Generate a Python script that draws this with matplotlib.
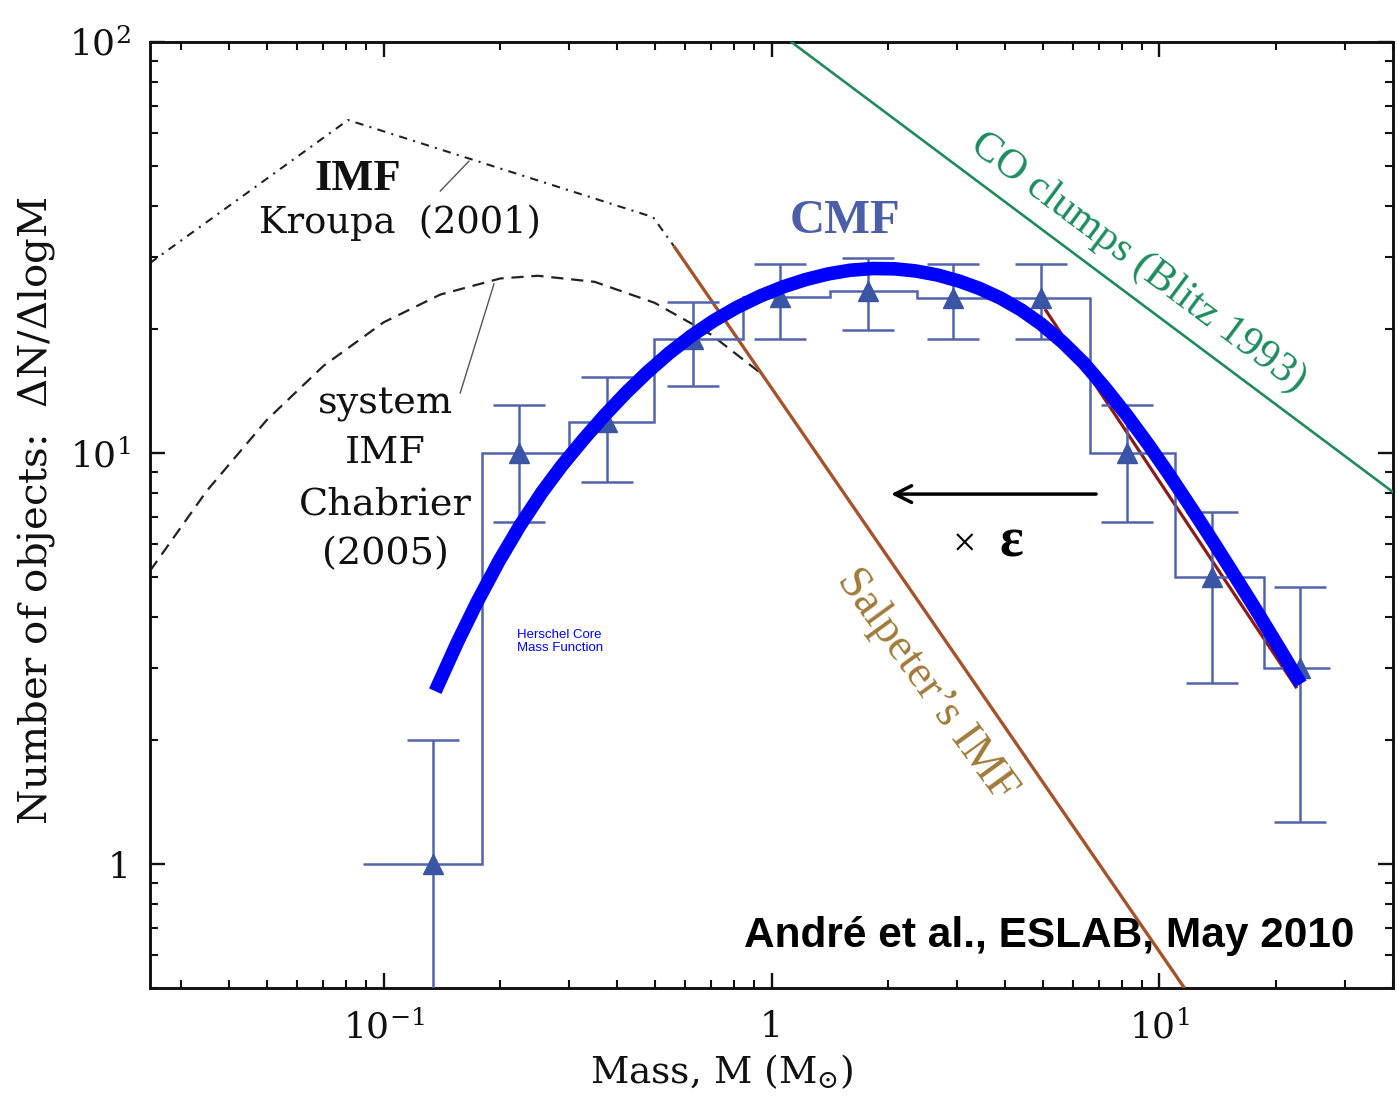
import numpy as np
import matplotlib
matplotlib.use("Agg")
import matplotlib.pyplot as plt
from matplotlib.ticker import FixedLocator, LogLocator, NullFormatter

plt.rcParams['mathtext.fontset'] = 'dejavuserif'

# ---------------- data ----------------
# CMF histogram (step) : bin edges and values
cmf_edges = [0.0883, 0.1795, 0.300, 0.498, 0.843, 1.416, 2.37, 3.96, 6.62, 11.0, 18.6, 27.6]
cmf_values = [1.0, 10.0, 11.9, 19.0, 24.0, 24.8, 23.8, 23.8, 10.0, 5.0, 3.0]
# data points with error bars
pt_mass = [0.134, 0.224, 0.377, 0.627, 1.05, 1.77, 2.93, 4.95, 8.23, 13.7, 23.1]
pt_value = [1.0, 10.0, 11.9, 19.0, 24.0, 24.8, 23.8, 23.8, 10.0, 5.0, 3.0]
pt_high = [2.0, 13.1, 15.3, 23.3, 28.8, 29.8, 28.8, 28.8, 13.1, 7.2, 4.72]
pt_low = [0.01, 6.8, 8.5, 14.6, 19.0, 19.9, 19.0, 19.0, 6.8, 2.76, 1.27]

# Kroupa (2001) IMF (broken power law vertices)
kroupa_m = [0.025, 0.081, 0.495, 0.56]
kroupa_n = [29.0, 64.6, 37.5, 31.9]

# Chabrier (2005) system IMF
chab_m = [0.025, 0.035, 0.05, 0.07, 0.1, 0.14, 0.2, 0.25, 0.35, 0.5, 0.7, 0.95]
chab_n = [5.17, 8.09, 12.04, 16.3, 20.8, 24.3, 26.6, 27.0, 26.1, 23.2, 19.4, 15.5]

# Salpeter IMF
salp_m = [0.56, 11.6]
salp_n = [31.9, 0.5]

# Salpeter shifted (x epsilon)
salp2_m = [5.07, 22.6]
salp2_n = [22.4, 2.68]

# CO clumps (Blitz 1993)
co_m = [1.125, 40.0]
co_n = [100.0, 8.04]

# Herschel core mass function (thick blue curve)
hcmf_m = [0.1359, 0.1548, 0.1742, 0.1983, 0.2245, 0.2557, 0.2877, 0.3276, 0.3708,
          0.4222, 0.4781, 0.5444, 0.6199, 0.7101, 0.8134, 0.9371, 1.0733, 1.2222,
          1.4003, 1.5946, 1.8260, 2.0792, 2.3535, 2.6810, 3.0525, 3.4357, 3.8892,
          4.4014, 4.9545, 5.6404, 6.3855, 7.2696, 8.2302, 9.3713, 10.607, 12.08,
          13.75, 15.66, 17.84, 20.31, 23.13]
hcmf_n = [2.636, 3.457, 4.341, 5.458, 6.655, 8.015, 9.309, 10.80, 12.34,
          14.04, 15.72, 17.50, 19.25, 21.00, 22.61, 24.12, 25.39, 26.42,
          27.28, 27.85, 28.12, 28.07, 27.74, 27.11, 26.19, 25.15, 23.84,
          22.30, 20.61, 18.58, 16.56, 14.35, 12.38, 10.48, 8.851, 7.356,
          6.091, 5.017, 4.120, 3.370, 2.744]

x_ticks = [0.1, 1, 10]
x_ticklabels = [r'$10^{-1}$', '1', r'$10^{1}$']
y_ticks = [1, 10, 100]
y_ticklabels = ['1', r'$10^{1}$', r'$10^{2}$']

# ---------------- figure ----------------
W, H = 1397, 1105
fig = plt.figure(figsize=(W / 100, H / 100), dpi=100)
ax = fig.add_axes([150 / W, 1 - 988 / H, (1393 - 150) / W, (988 - 42) / H])
ax.set_xscale('log')
ax.set_yscale('log')
ax.set_xlim(0.025, 40)
ax.set_ylim(0.5, 100)

serif = 'DejaVu Serif'
times = 'Liberation Serif'
hist_col = '#5264aa'
mark_col = '#3a55a5'

# Kroupa
ax.plot(kroupa_m, kroupa_n, color='#222222', lw=1.5, linestyle=(0, (4, 3, 1, 3)), zorder=2)
# Chabrier
ax.plot(chab_m, chab_n, color='#222222', lw=1.6, linestyle=(0, (5.5, 3.5)), zorder=2)
# Salpeter
ax.plot(salp_m, salp_n, color='#a5532b', lw=2.4, zorder=3, solid_capstyle='butt')
# shifted Salpeter
ax.plot(salp2_m, salp2_n, color='#8b1c1c', lw=2.3, zorder=3, solid_capstyle='butt')
# CO clumps
ax.plot(co_m, co_n, color='#228a5c', lw=1.9, zorder=3)

# CMF histogram
ax.stairs(cmf_values, cmf_edges, baseline=None, color=hist_col, lw=1.8, zorder=4)
pv = np.array(pt_value)
yerr = [pv - np.array(pt_low), np.array(pt_high) - pv]
ax.errorbar(pt_mass, pt_value, yerr=yerr, fmt='^', color=hist_col, ecolor=hist_col,
            mfc=mark_col, mec=mark_col, ms=14, elinewidth=1.8, capsize=19, capthick=1.8,
            zorder=5)

# Herschel core mass function
ax.plot(hcmf_m, hcmf_n, color='#0000ff', lw=9.8, solid_capstyle='butt',
        solid_joinstyle='round', zorder=8)

# annotation pointers
ax.plot([0.140, 0.166], [43.4, 51.3], color='#555555', lw=1.0, zorder=2)
ax.plot([0.1576, 0.1926], [14.0, 25.8], color='#555555', lw=1.0, zorder=2)

# arrow
ax.annotate('', xy=(2.0, 7.95), xytext=(6.98, 7.95),
            arrowprops=dict(arrowstyle='->', color='black', lw=2.5,
                            mutation_scale=30), zorder=6)

# texts
ax.text(0.0858, 46.4, 'IMF', family=times, weight='bold', fontsize=32,
        ha='center', va='center', color='#111111')
ax.text(0.110, 36.3, 'Kroupa  (2001)', family=serif, fontsize=26.5,
        ha='center', va='center', color='#111111')
for txt, yv in [('system', 13.2), ('IMF', 10.0), ('Chabrier', 7.51), ('(2005)', 5.68)]:
    ax.text(0.101, yv, txt, family=serif, fontsize=27.5, ha='center', va='center',
            color='#111111')
ax.text(1.55, 36.7, 'CMF', family=times, weight='bold', fontsize=35,
        ha='center', va='center', color='#4d5ea8')
ax.text(8.83, 29.0, 'CO clumps (Blitz 1993)', family=times, fontsize=30.5,
        ha='center', va='center', rotation=-36.7, rotation_mode='anchor',
        color='#1e8c5e')
ax.text(2.50, 2.72, "Salpeter\u2019s IMF", family=times, fontsize=33,
        ha='center', va='center', rotation=-54, rotation_mode='anchor',
        color='#a07a3a')
ax.text(3.15, 5.95, '\u00d7', family=times, fontsize=30,
        ha='center', va='center', color='black')
ax.text(4.15, 6.05, '\u03b5', family=times, fontsize=40, weight='bold',
        ha='center', va='center', color='black')
ax.text(0.221, 3.49, 'Herschel Core\nMass Function', family='Liberation Sans',
        fontsize=9.5, ha='left', va='center', color='#0000ff', linespacing=1.1)
ax.text(5.19, 0.668, 'Andr\u00e9 et al., ESLAB, May 2010', family='Liberation Sans',
        weight='bold', fontsize=30.5, ha='center', va='center', color='black', zorder=2.5)

# axes styling
for s in ax.spines.values():
    s.set_linewidth(2.1)
    s.set_color('#111111')
ax.xaxis.set_major_locator(FixedLocator(x_ticks))
ax.set_xticklabels(x_ticklabels)
ax.yaxis.set_major_locator(FixedLocator(y_ticks))
ax.set_yticklabels(y_ticklabels)
ax.xaxis.set_minor_locator(LogLocator(base=10, subs=np.arange(2, 10)))
ax.yaxis.set_minor_locator(LogLocator(base=10, subs=np.arange(2, 10)))
ax.xaxis.set_minor_formatter(NullFormatter())
ax.yaxis.set_minor_formatter(NullFormatter())
ax.tick_params(which='both', direction='in', top=True, right=True, color='#111111')
ax.tick_params(which='major', length=11, width=1.7, labelsize=26)
ax.tick_params(axis='x', which='major', pad=16)
ax.tick_params(axis='y', which='major', pad=14)
ax.tick_params(which='minor', length=6, width=1.5)
for lab in ax.get_xticklabels() + ax.get_yticklabels():
    lab.set_family(serif)
    lab.set_color('#111111')

ax.set_xlabel(r'Mass, M (M$_{\odot}$)', family=serif, fontsize=27, color='#111111')
ax.xaxis.set_label_coords((722 - 150) / 1243, -0.068)
ax.set_ylabel(r'Number of objects:  $\Delta$N/$\Delta$logM', family=serif, fontsize=29,
              color='#111111')
ax.yaxis.set_label_coords(-(150 - 57) / 1243, 0.505)

fig.savefig('out.png', dpi=100)
